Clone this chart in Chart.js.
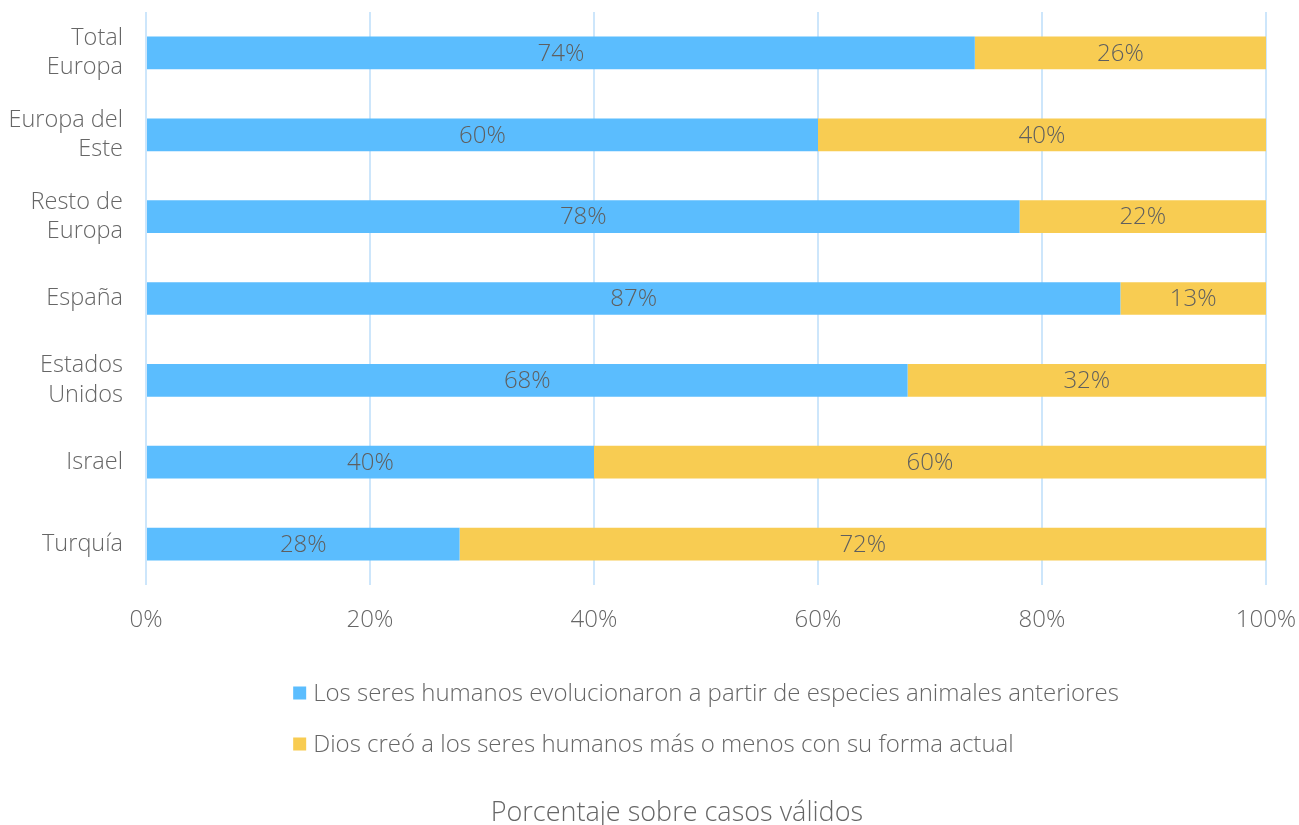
<!DOCTYPE html>
<html>
<head>
<meta charset="utf-8">
<script src="https://cdn.jsdelivr.net/npm/chart.js@4/dist/chart.umd.min.js"></script>
<style>
  html, body { margin: 0; padding: 0; background: #fff; }
  #wrap { width: 1299px; height: 825px; position: relative; }
</style>
</head>
<body>
<div id="wrap"><canvas id="evolucion"></canvas></div>
<script>
// Datos
const regiones = [
  ['Total', 'Europa'],
  ['Europa del', 'Este'],
  ['Resto de', 'Europa'],
  'España',
  ['Estados', 'Unidos'],
  'Israel',
  'Turquía'
];
const evolucionaron = [74, 60, 78, 87, 68, 40, 28];
const diosCreo = [26, 40, 22, 13, 32, 60, 72];
const ticksX = [0, 20, 40, 60, 80, 100];
const tituloEje = 'Porcentaje sobre casos válidos';

const FONT = '"Open Sans", Roboto, sans-serif';
const GRIS = '#666666';

// etiquetas de valor dentro de cada tramo
const valoresPlugin = {
    id: 'valores',
    afterDatasetsDraw(chart) {
        const ctx = chart.ctx;
        ctx.save();
        ctx.font = '300 24px ' + FONT;
        ctx.fillStyle = '#5f5f5f';
        ctx.textAlign = 'center';
        ctx.textBaseline = 'middle';
        chart.data.datasets.forEach((ds, i) => {
            chart.getDatasetMeta(i).data.forEach((bar, j) => {
                const cx = (bar.x + bar.base) / 2;
                ctx.fillText(ds.data[j] + '%', cx, bar.y + 1);
            });
        });
        ctx.restore();
    }
};

// leyenda en dos líneas alineadas a la izquierda + título inferior
const leyendaPlugin = {
    id: 'leyendaApilada',
    afterDraw(chart) {
        const ctx = chart.ctx;
        const area = chart.chartArea;
        ctx.save();
        ctx.font = '300 24px ' + FONT;
        ctx.textBaseline = 'middle';
        const caja = 13, hueco = 7;
        const anchos = chart.data.datasets.map(ds => ctx.measureText(ds.label).width);
        const total = caja + hueco + Math.max(...anchos);
        const left = (area.left + area.right) / 2 - total / 2;
        let y = chart.scales.x.bottom - 100;
        chart.data.datasets.forEach(ds => {
            ctx.fillStyle = ds.backgroundColor;
            ctx.fillRect(left, y - caja / 2, caja, caja);
            ctx.fillStyle = GRIS;
            ctx.fillText(ds.label, left + caja + hueco, y + 1);
            y += 51;
        });

        ctx.font = '300 27px ' + FONT;
        ctx.textAlign = 'center';
        ctx.fillStyle = GRIS;
        ctx.fillText(tituloEje, area.left + area.width * 0.474, chart.height - 12);
        ctx.restore();
    }
};

new Chart(document.getElementById('evolucion'), {
    type: 'bar',
    data: {
        labels: regiones,
        datasets: [{
            label: 'Los seres humanos evolucionaron a partir de especies animales anteriores',
            data: evolucionaron,
            backgroundColor: '#5bbdfe',
            categoryPercentage: 1,
            barPercentage: 0.4
        }, {
            label: 'Dios creó a los seres humanos más o menos con su forma actual',
            data: diosCreo,
            backgroundColor: '#f8cc52',
            categoryPercentage: 1,
            barPercentage: 0.4
        }]
    },
    options: {
        indexAxis: 'y',
        responsive: true,
        maintainAspectRatio: false,
        animation: false,
        layout: { padding: { top: 12, right: 33, bottom: 32, left: 0 } },
        plugins: {
            legend: { display: false },
            tooltip: { enabled: false }
        },
        scales: {
            x: {
                stacked: true,
                min: 0,
                max: 100,
                afterBuildTicks: scale => { scale.ticks = ticksX.map(v => ({ value: v })); },
                afterFit: scale => {
                    scale.height = 208;
                    scale.paddingLeft = 0;
                    scale.paddingRight = 0;
                },
                grid: { color: '#cde6fb', lineWidth: 2, drawTicks: false },
                border: { display: false },
                ticks: {
                    padding: 21,
                    color: GRIS,
                    font: { family: FONT, size: 24, weight: '300' },
                    callback: v => v + '%'
                }
            },
            y: {
                stacked: true,
                afterFit: scale => {
                    scale.width = 146;
                    scale.paddingTop = 0;
                    scale.paddingBottom = 0;
                },
                grid: { display: false, drawTicks: false },
                border: { display: false },
                ticks: {
                    padding: 23,
                    color: GRIS,
                    font: { family: FONT, size: 23.5, weight: '300', lineHeight: 1.25 }
                }
            }
        }
    },
    plugins: [valoresPlugin, leyendaPlugin]
});
</script>
</body>
</html>
